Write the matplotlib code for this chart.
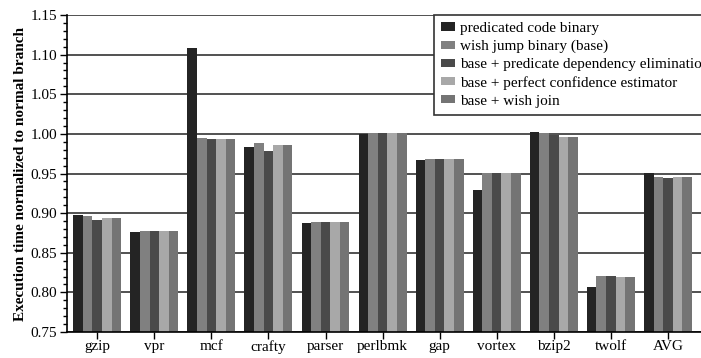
import numpy as np
import matplotlib
matplotlib.use('Agg')
import matplotlib.pyplot as plt

# Benchmarks and per-configuration normalized execution times
benchmarks = ['gzip', 'vpr', 'mcf', 'crafty', 'parser', 'perlbmk',
              'gap', 'vortex', 'bzip2', 'twolf', 'AVG']
series_names = ['predicated code binary',
                'wish jump binary (base)',
                'base + predicate dependency elimination',
                'base + perfect confidence estimator',
                'base + wish join']
predicated = [0.898, 0.876, 1.108, 0.984, 0.887, 1.000, 0.967, 0.929, 1.002, 0.807, 0.951]
wish_jump = [0.896, 0.877, 0.995, 0.988, 0.889, 1.001, 0.968, 0.951, 1.001, 0.821, 0.946]
pred_dep_elim = [0.891, 0.877, 0.994, 0.979, 0.889, 1.001, 0.968, 0.951, 0.999, 0.821, 0.944]
perfect_conf = [0.894, 0.877, 0.994, 0.986, 0.889, 1.001, 0.968, 0.951, 0.996, 0.820, 0.945]
wish_join = [0.894, 0.877, 0.994, 0.986, 0.889, 1.001, 0.968, 0.951, 0.996, 0.820, 0.945]
series = [predicated, wish_jump, pred_dep_elim, perfect_conf, wish_join]
colors = ['#242424', '#808080', '#4a4a4a', '#a8a8a8', '#747474']

plt.rcParams['font.family'] = ['Liberation Serif', 'DejaVu Serif']
plt.rcParams['font.size'] = 11

fig = plt.figure(figsize=(7.01, 3.58), dpi=100)
ax = fig.add_axes([0.0956, 0.0726, 0.906, 0.8855])

x = np.arange(len(benchmarks))
width = 0.168
for i, (vals, name, c) in enumerate(zip(series, series_names, colors)):
    ax.bar(x + (i - 2) * width, np.array(vals) - 0.75, width, bottom=0.75,
           color=c, label=name, zorder=3, linewidth=0)

ax.set_ylim(0.75, 1.15)
ax.set_xlim(-0.53, 10.6)
ax.set_yticks(np.arange(0.75, 1.151, 0.05))
ax.set_yticks(np.arange(0.75, 1.151, 0.01), minor=True)
ax.set_yticklabels([f'{v:.2f}' for v in np.arange(0.75, 1.151, 0.05)])
ax.set_xticks(x)
ax.set_xticklabels(benchmarks)
ax.tick_params(axis='y', which='major', length=5, width=1, direction='out', pad=2)
ax.tick_params(axis='y', which='minor', length=3, width=1, direction='out')
ax.tick_params(axis='x', length=5, width=1, direction='out', pad=1)

ax.yaxis.grid(True, which='major', color='#333333', linewidth=1.2, zorder=0)
ax.set_axisbelow(True)
for s in ['top', 'right']:
    ax.spines[s].set_visible(False)
for s in ['left', 'bottom']:
    ax.spines[s].set_linewidth(1.2)
    ax.spines[s].set_zorder(4)

ax.set_ylabel('Execution time normalized to normal branch', fontweight='bold',
              fontsize=11, labelpad=3)

leg = ax.legend(loc='upper left', bbox_to_anchor=(434 / 701, 1 - 15 / 358),
                bbox_transform=fig.transFigure, borderaxespad=0,
                frameon=True, fancybox=False, framealpha=1, edgecolor='#333333',
                fontsize=11, handlelength=0.9, handleheight=0.45,
                handletextpad=0.35, labelspacing=0.32, borderpad=0.45)
leg.get_frame().set_linewidth(1.2)
leg.set_zorder(5)

fig.savefig('out.png', dpi=100)
